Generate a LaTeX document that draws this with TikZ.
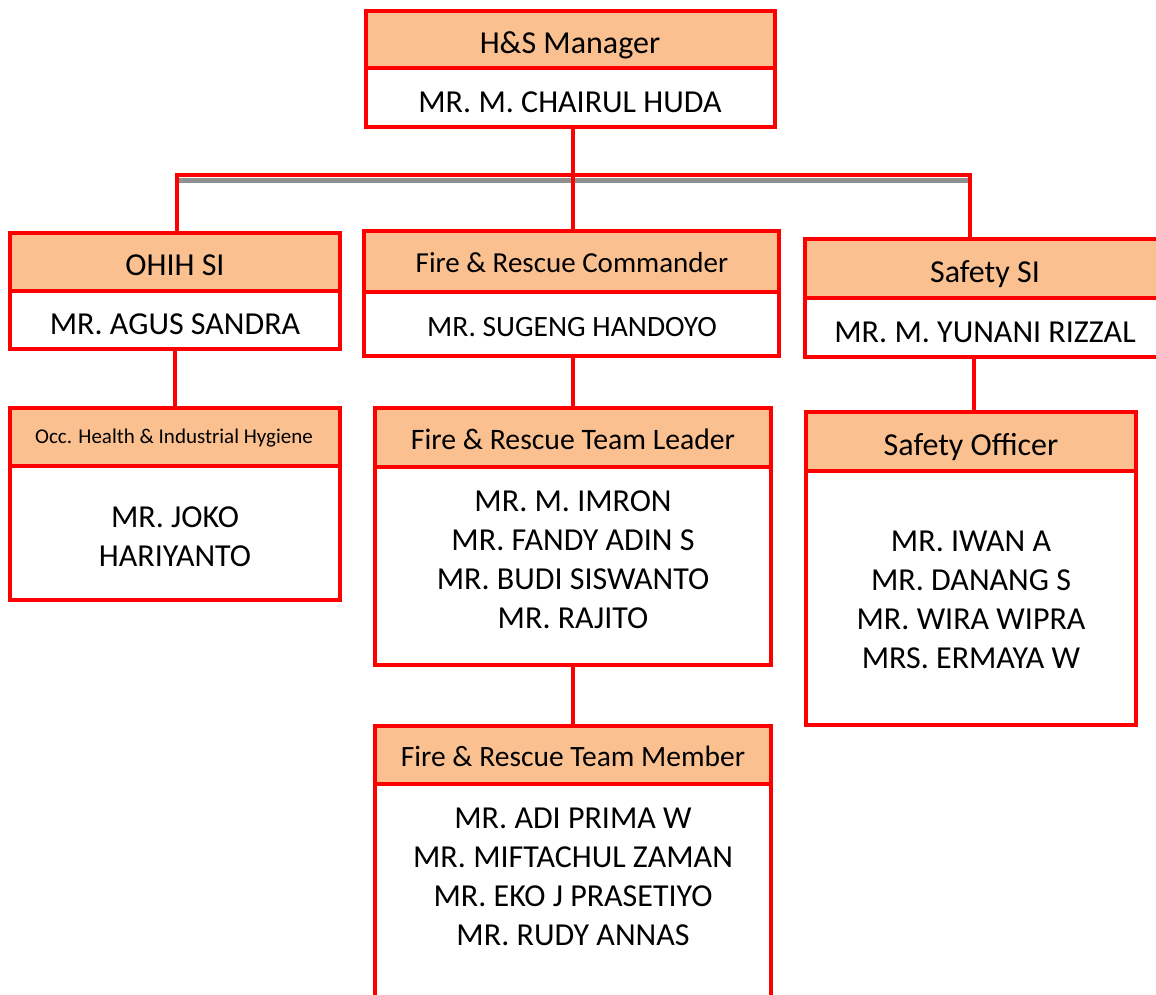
\documentclass[tikz,border=0pt]{standalone}
\usepackage{fontspec}
\setmainfont{Carlito}
\definecolor{peach}{HTML}{FAC090}
\definecolor{boxred}{HTML}{FF0000}
\definecolor{shade}{HTML}{909090}
\begin{document}
\begin{tikzpicture}[x=1pt,y=-1pt,
  box/.style={draw=boxred, line width=4.5pt, inner sep=0pt, outer sep=0pt},
  head/.style={box, fill=peach},
  body/.style={box, fill=white},
  lbl/.style={inner sep=0pt, text height={0.632*#1pt}, text depth=0pt, font=\fontsize{#1}{#1}\selectfont},
  lbl/.default=32,
  names/.style={inner sep=0pt, align=center, font=\fontsize{32}{39}\selectfont},
  link/.style={draw=boxred, line width=4.5pt},
  shadowline/.style={draw=shade, line width=5pt}]
\useasboundingbox (0,0) rectangle (1156,994);
\clip (0,0) rectangle (1156,994);

% bus coordinates
\coordinate (busL) at (177,175);
\coordinate (busM) at (573,175);
\coordinate (busR) at (970,175);

% boxes (drawn as empty nodes, text placed separately)
\node[head, minimum width=409, minimum height=57] (hsH) at (570.5,39.5) {};
\node[body, minimum width=409, minimum height=59] (hsB) at (570.5,97.5) {};

\node[head, minimum width=330, minimum height=58] (ohH) at (175,262) {};
\node[body, minimum width=330, minimum height=58] (ohB) at (175,320) {};

\node[head, minimum width=415, minimum height=61] (fcH) at (571.5,261.5) {};
\node[body, minimum width=415, minimum height=64] (fcB) at (571.5,324) {};

\node[head, minimum width=360, minimum height=59] (ssH) at (985,268.5) {};
\node[body, minimum width=360, minimum height=59] (ssB) at (985,327.5) {};

\node[head, minimum width=330, minimum height=58] (ocH) at (175,437) {};
\node[body, minimum width=330, minimum height=134] (ocB) at (175,533) {};

\node[head, minimum width=396, minimum height=59] (tlH) at (573,437.5) {};
\node[body, minimum width=396, minimum height=198] (tlB) at (573,566) {};

\node[head, minimum width=396, minimum height=58] (tmH) at (573,755) {};
\node[body, minimum width=396, minimum height=226] (tmB) at (573,897) {};

\node[head, minimum width=330, minimum height=59] (soH) at (971,441.5) {};
\node[body, minimum width=330, minimum height=254] (soB) at (971,598) {};

% connectors
\draw[shadowline] ([yshift=-5pt]busL) -- ([yshift=-5pt]busR);
\draw[link] (hsB.south -| busM) -- (busM);
\draw[link, line join=miter] (busL |- ohH.north) -- (busL) -- (busR) -- (busR |- ssH.north);
\draw[link] (busM) -- (busM |- fcH.north);
\draw[link] (ohB.south) -- (ocH.north);
\draw[link] (tlH.north |- fcB.south) -- (tlH.north);
\draw[link] (tlB.south) -- (tmH.north);
\draw[link] ([xshift=3pt]soH.north |- ssB.south) -- ([xshift=3pt]soH.north);

% redraw box outlines on top of connectors
\foreach \n in {hsH,hsB,ohH,ohB,fcH,fcB,ssH,ssB,ocH,ocB,tlH,tlB,tmH,tmB,soH,soB}
  \draw[boxred, line width=4.5pt] (\n.north west) rectangle (\n.south east);

% texts
\node[lbl] (hsT) at (570,43) {H\&S Manager};
\node[lbl] (hsN) at (570,102.5) {MR. M. CHAIRUL HUDA};

\node[lbl] (ohT) at (175,265) {OHIH SI};
\node[lbl] (ohN) at (175,324) {MR. AGUS SANDRA};

\node[lbl=29] (fcT) at (572,263) {Fire \& Rescue Commander};
\node[lbl=29.5] (fcN) at (572,327) {MR. SUGENG HANDOYO};

\node[lbl] (ssT) at (985,272) {Safety SI};
\node[lbl] (ssN) at (985,332) {MR. M. YUNANI RIZZAL};

\node[lbl=21] (ocT) at (174,437) {Occ. Health \& Industrial Hygiene};
\node[names] (ocN) at (175,536.5) {MR. JOKO\\HARIYANTO};

\node[lbl=29.7] (tlT) at (573,440) {Fire \& Rescue Team Leader};
\node[names] (tlN) at (573,559.5) {MR. M. IMRON\\MR. FANDY ADIN S\\MR. BUDI SISWANTO\\MR. RAJITO};

\node[lbl=29.5] (tmT) at (573,757.5) {Fire \& Rescue Team Member};
\node[names] (tmN) at (573,876.5) {MR. ADI PRIMA W\\MR. MIFTACHUL ZAMAN\\MR. EKO J PRASETIYO\\MR. RUDY ANNAS};

\node[lbl] (soT) at (971,445) {Safety Officer};
\node[names] (soN) at (971,600) {MR. IWAN A\\MR. DANANG S\\MR. WIRA WIPRA\\MRS. ERMAYA W};
\end{tikzpicture}
\end{document}
